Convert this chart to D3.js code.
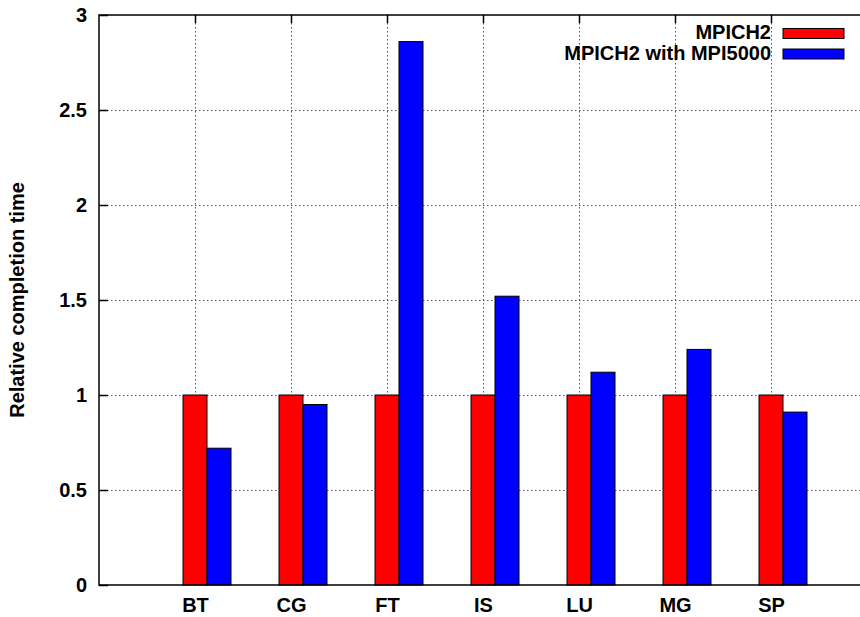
<!DOCTYPE html>
<html>
<head>
<meta charset="utf-8">
<script src="https://cdn.jsdelivr.net/npm/d3@7/dist/d3.min.js"></script>
<style>
  body { margin: 0; background: #fff; }
  svg { display: block; font-family: "Liberation Sans", Arial, sans-serif; font-weight: bold; }
</style>
</head>
<body>
<div id="chart"></div>
<script>
var categories = ["BT", "CG", "FT", "IS", "LU", "MG", "SP"];
var mpich2 = [1, 1, 1, 1, 1, 1, 1];
var mpi5000 = [0.72, 0.95, 2.86, 1.52, 1.12, 1.24, 0.91];
var yTicks = [0, 0.5, 1, 1.5, 2, 2.5, 3];
var seriesNames = ["MPICH2", "MPICH2 with MPI5000"];
var seriesColors = ["#ff0000", "#0000ff"];

var w = 860, h = 617;
var padLeft = 99, padTop = 15, padBottom = 585;
var fs = 20;

var svg = d3.select("#chart").append("svg")
	.attr("width", w)
	.attr("height", h);

// scales: category index -1..7 across the frame (right edge falls off the canvas)
var xScale = d3.scaleLinear().domain([-1, 7]).range([padLeft, 867]);
var yScale = d3.scaleLinear().domain([0, 3]).range([padBottom, padTop]);
var barW = xScale(0.25) - xScale(0);

// grid
svg.append("g").selectAll("line")
	.data(yTicks.slice(1, -1))
	.enter().append("line")
	.attr("x1", padLeft).attr("x2", w)
	.attr("y1", function(d) { return yScale(d) + 0.5; })
	.attr("y2", function(d) { return yScale(d) + 0.5; })
	.attr("stroke", "#555").attr("stroke-width", 1)
	.attr("stroke-dasharray", "1.5,2.5");

svg.append("g").selectAll("line")
	.data(categories)
	.enter().append("line")
	.attr("x1", function(d, i) { return xScale(i) + 0.5; })
	.attr("x2", function(d, i) { return xScale(i) + 0.5; })
	.attr("y1", padTop).attr("y2", padBottom)
	.attr("stroke", "#555").attr("stroke-width", 1)
	.attr("stroke-dasharray", "1.5,2.5");

// bars
var series = [mpich2, mpi5000];
series.forEach(function(vals, s) {
	svg.append("g").selectAll("rect")
		.data(vals)
		.enter().append("rect")
		.attr("x", function(d, i) { return xScale(i) - barW / 2 + s * barW; })
		.attr("y", function(d) { return yScale(d); })
		.attr("width", barW)
		.attr("height", function(d) { return padBottom - yScale(d); })
		.attr("fill", seriesColors[s])
		.attr("stroke", "#000")
		.attr("stroke-width", 1);
});

// frame
svg.append("path")
	.attr("d", "M" + w + "," + padTop + "H" + padLeft + "V" + padBottom + "H" + w)
	.attr("fill", "none").attr("stroke", "#000").attr("stroke-width", 1.5);

// y axis ticks (inside) and labels
var yAxis = d3.axisLeft(yScale).tickValues(yTicks).tickSize(-9).tickPadding(12)
	.tickFormat(function(d) { return d3.format("")(d); });
var gy = svg.append("g")
	.attr("transform", "translate(" + padLeft + ",0)")
	.call(yAxis);
gy.select(".domain").remove();
gy.selectAll("line").attr("stroke", "#000").attr("stroke-width", 1.5);
gy.selectAll("text").attr("font-size", fs).attr("font-weight", "bold")
	.attr("font-family", "Liberation Sans, Arial, sans-serif").attr("fill", "#000");

// x axis labels
var xAxis = d3.axisBottom(xScale).tickValues(d3.range(categories.length))
	.tickSize(0).tickPadding(13)
	.tickFormat(function(d) { return categories[d]; });
var gx = svg.append("g")
	.attr("transform", "translate(0," + padBottom + ")")
	.call(xAxis);
gx.select(".domain").remove();
gx.selectAll("text").attr("font-size", fs).attr("font-weight", "bold")
	.attr("font-family", "Liberation Sans, Arial, sans-serif").attr("fill", "#000");

// top ticks (mirror)
svg.append("g").selectAll("line")
	.data(categories)
	.enter().append("line")
	.attr("x1", function(d, i) { return xScale(i) + 0.5; })
	.attr("x2", function(d, i) { return xScale(i) + 0.5; })
	.attr("y1", padTop).attr("y2", padTop + 8)
	.attr("stroke", "#000").attr("stroke-width", 1.5);

// y label
svg.append("text")
	.attr("transform", "translate(24," + ((padTop + padBottom) / 2) + ") rotate(-90)")
	.attr("text-anchor", "middle")
	.attr("font-size", fs)
	.text("Relative completion time");

// legend
var legend = svg.append("g").selectAll("g")
	.data(seriesNames)
	.enter().append("g")
	.attr("transform", function(d, i) { return "translate(0," + (i * 20.5) + ")"; });
legend.append("text")
	.attr("x", 771).attr("y", 39)
	.attr("text-anchor", "end")
	.attr("font-size", fs)
	.text(function(d) { return d; });
legend.append("rect")
	.attr("x", 783).attr("y", 28.5)
	.attr("width", 61).attr("height", 10)
	.attr("fill", function(d, i) { return seriesColors[i]; })
	.attr("stroke", "#000").attr("stroke-width", 1);
</script>
</body>
</html>
